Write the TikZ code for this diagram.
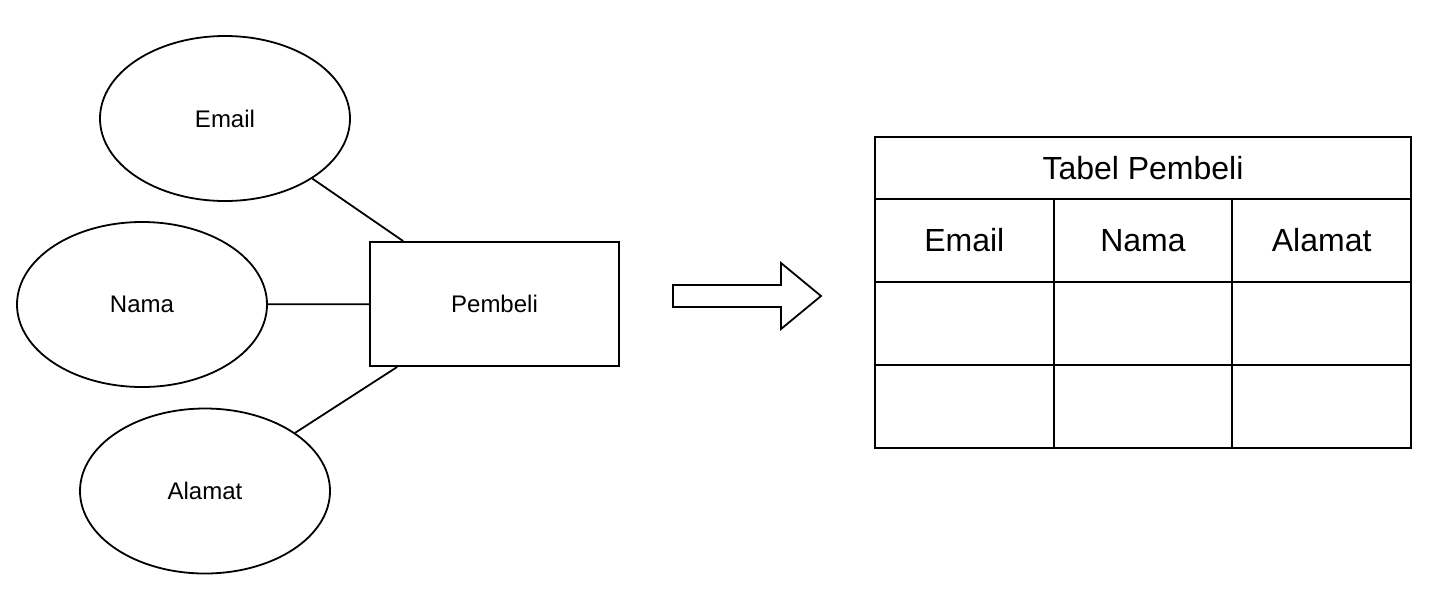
\documentclass[tikz,border=0pt]{standalone}
\usepackage{fontspec}
\setmainfont{Liberation Sans}
\usetikzlibrary{positioning,shapes.geometric}

\begin{document}
\begin{tikzpicture}[
  x=0.5pt, y=-0.5pt,
  node distance=0pt,
  line width=0.9pt,
  attr/.style={draw, ellipse, minimum width=125pt, minimum height=82.5pt, inner sep=0pt,
               font=\fontsize{12}{14}\selectfont},
  entity/.style={draw, rectangle, minimum width=124.5pt, minimum height=62pt, inner sep=0pt,
                 font=\fontsize{12}{14}\selectfont},
  cell/.style={draw, rectangle, minimum width=89.33pt, minimum height=41.5pt, inner sep=0pt,
               outer sep=0pt, font=\fontsize{16}{19}\selectfont},
  tabtitle/.style={cell, minimum width=268pt, minimum height=31pt},
  link/.style={line width=0.9pt}
]
\useasboundingbox (0,0) rectangle (1434,590);
\node[entity] (pembeli) at (494.5,304) {Pembeli};
\node[attr] (email) at (225,118.5) {Email};
\node[attr] (nama) at (142,304.5) {Nama};
\node[attr] (alamat) at (205,491) {Alamat};
\draw[link] (email) -- (pembeli);
\draw[link] (nama) -- (pembeli);
\draw[link] (alamat) -- (pembeli);
\draw[link] (673,285) -- (781,285) -- (781,263) -- (821,296) -- (781,329) -- (781,307)
  -- (673,307) -- cycle;
\node[tabtitle] (tabel) at (1143,168) {Tabel Pembeli};
\node[cell, anchor=north west] (hemail) at (tabel.south west) {Email};
\node[cell, right=of hemail] (hnama) {Nama};
\node[cell, right=of hnama] (halamat) {Alamat};
\node[cell, below=of hemail] (emaila) {};
\node[cell, below=of hnama] (namaa) {};
\node[cell, below=of halamat] (alamata) {};
\node[cell, below=of emaila] (emailb) {};
\node[cell, below=of namaa] (namab) {};
\node[cell, below=of alamata] (alamatb) {};
\end{tikzpicture}
\end{document}
